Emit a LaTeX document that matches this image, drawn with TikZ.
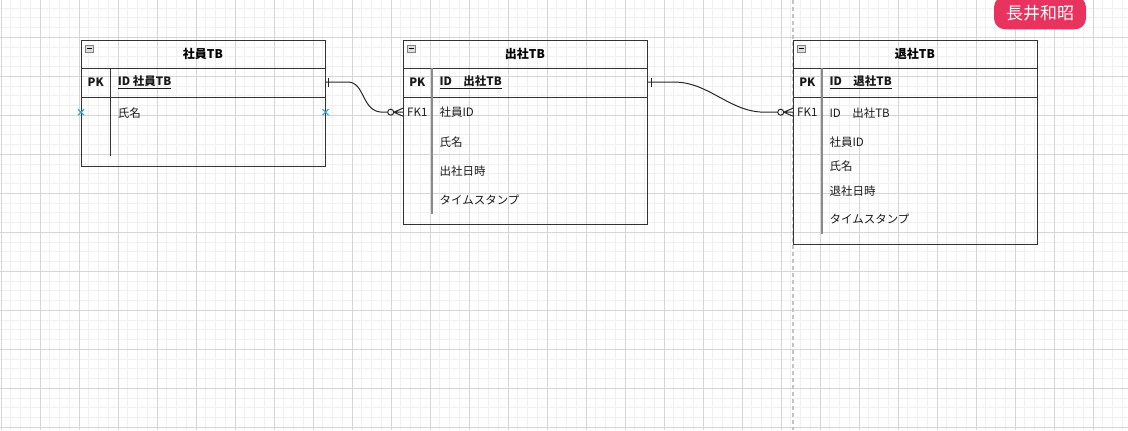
\documentclass[tikz,border=0pt]{standalone}
\usepackage{fontspec}
\setmainfont{Noto Sans CJK JP}
\usetikzlibrary{calc}
\definecolor{gminorc}{HTML}{F0F0F0}
\definecolor{gmajorc}{HTML}{D6D6D6}
\definecolor{edgec}{HTML}{333333}
\definecolor{divc}{HTML}{8A8A8A}
\definecolor{badgec}{HTML}{E8335E}
\definecolor{xmarkc}{HTML}{2EA8E6}
\definecolor{dashc}{HTML}{C4C4C4}
\tikzset{
  gminor/.style={draw=gminorc, line width=1bp},
  gmajor/.style={draw=gmajorc, line width=1bp},
  tbl/.style={draw=edgec, line width=1.1bp, rectangle, inner sep=0, anchor=north west},
  hsep/.style={draw=edgec, line width=1.1bp},
  divthin/.style={draw=edgec, line width=1bp},
  divthick/.style={draw=divc, line width=2bp},
  ttl/.style={font=\bfseries\fontsize{12bp}{14bp}\selectfont, inner sep=0, text=black},
  keytxt/.style={font=\bfseries\fontsize{11.5bp}{14bp}\selectfont, inner sep=0, text=black!90},
  fld/.style={font=\fontsize{11.5bp}{14bp}\selectfont, anchor=west, inner sep=0, text=black!90},
  minusbox/.style={draw=gray, fill=gray!25, minimum width=8bp, minimum height=7bp, inner sep=0, anchor=north west, line width=0.6bp},
  conn/.style={draw=black!85, line width=1bp},
  xm/.style={draw=xmarkc, line width=1.2bp},
  badge/.style={fill=badgec, rounded corners=11bp, minimum width=92bp, minimum height=33bp, inner sep=0, text=white, font=\fontsize{17bp}{20bp}\selectfont}
}
\begin{document}
\begin{tikzpicture}[x=1bp,y=-1bp]
\useasboundingbox (0,0) rectangle (1128,430);
% grid
\foreach \i in {0,...,116} {\draw[gminor] ({1+9.75*\i},0) -- ({1+9.75*\i},430);}
\foreach \j in {0,...,44} {\draw[gminor] (0,{-1.7+9.75*\j}) -- (1128,{-1.7+9.75*\j});}
\foreach \i in {0,...,28} {\draw[gmajor] ({1+39*\i},0) -- ({1+39*\i},430);}
\foreach \j in {0,...,11} {\draw[gmajor] (0,{-1.7+39*\j}) -- (1128,{-1.7+39*\j});}
% page break dashed line
\draw[draw=dashc, line width=1.2bp, dash pattern=on 4bp off 3bp] (793,0) -- (793,430);

% ---------- table 1 ----------
\node[tbl, minimum width=243.5bp, minimum height=126.2bp] (t1) at (81,39.5) {};
\draw[hsep] ($(t1.north west)+(0,28.8)$) -- ($(t1.north east)+(0,28.8)$);
\draw[hsep] ($(t1.north west)+(0,58.2)$) -- ($(t1.north east)+(0,58.2)$);
\draw[divthin] ($(t1.north west)+(29.3,28.8)$) -- ($(t1.north west)+(29.3,116.5)$);
\node[minusbox] (t1m) at ($(t1.north west)+(4,5.5)$) {};
\draw[line width=0.8bp] ([xshift=1.8bp]t1m.west) -- ([xshift=-1.8bp]t1m.east);
\node[ttl] (t1t) at (203,54) {社員TB};
\node[keytxt] (t1k) at (95.7,82) {PK};
\node[fld, font=\bfseries\fontsize{11.5bp}{14bp}\selectfont] (t1p) at (117.7,82) {\underline{ID 社員TB}};
\node[fld] (t1f1) at (117.7,112.7) {氏名};
\path ($(t1.north west)+(0,72.7)$) coordinate (x1) ($(t1.north east)+(0,72.7)$) coordinate (x2);
\draw[xm] ($(x1)+(-3,-3)$) -- ($(x1)+(3,3)$) ($(x1)+(-3,3)$) -- ($(x1)+(3,-3)$);
\draw[xm] ($(x2)+(-3,-3)$) -- ($(x2)+(3,3)$) ($(x2)+(-3,3)$) -- ($(x2)+(3,-3)$);

% ---------- table 2 ----------
\node[tbl, minimum width=243.5bp, minimum height=184.5bp] (t2) at (403,39.5) {};
\draw[hsep] ($(t2.north west)+(0,28.8)$) -- ($(t2.north east)+(0,28.8)$);
\draw[hsep] ($(t2.north west)+(0,58.2)$) -- ($(t2.north east)+(0,58.2)$);
\draw[divthick] ($(t2.north west)+(28.7,28.8)$) -- ($(t2.north west)+(28.7,174.8)$);
\node[minusbox] (t2m) at ($(t2.north west)+(4,5.5)$) {};
\draw[line width=0.8bp] ([xshift=1.8bp]t2m.west) -- ([xshift=-1.8bp]t2m.east);
\node[ttl] (t2t) at (525,54) {出社TB};
\node[keytxt] (t2k) at (417.3,82) {PK};
\node[fld, font=\bfseries\fontsize{11.5bp}{14bp}\selectfont] (t2p) at (439.3,82) {\underline{ID　出社TB}};
\node[fld, font=\fontsize{11.5bp}{14bp}\selectfont, anchor=center] (t2fk) at (417.3,112.3) {FK1};
\node[fld] (t2f1) at (439.3,112.3) {社員ID};
\node[fld] (t2f2) at (439.3,142.3) {氏名};
\node[fld] (t2f3) at (439.3,170.7) {出社日時};
\node[fld] (t2f4) at (439.3,200) {タイムスタンプ};

% ---------- table 3 ----------
\node[tbl, minimum width=243.5bp, minimum height=204.2bp] (t3) at (793,39.5) {};
\draw[hsep] ($(t3.north west)+(0,28.8)$) -- ($(t3.north east)+(0,28.8)$);
\draw[hsep] ($(t3.north west)+(0,58.2)$) -- ($(t3.north east)+(0,58.2)$);
\draw[divthick] ($(t3.north west)+(28.7,28.8)$) -- ($(t3.north west)+(28.7,194.8)$);
\node[minusbox] (t3m) at ($(t3.north west)+(4,5.5)$) {};
\draw[line width=0.8bp] ([xshift=1.8bp]t3m.west) -- ([xshift=-1.8bp]t3m.east);
\node[ttl] (t3t) at (915,54) {退社TB};
\node[keytxt] (t3k) at (807.3,82) {PK};
\node[fld, font=\bfseries\fontsize{11.5bp}{14bp}\selectfont] (t3p) at (829.3,82) {\underline{ID　退社TB}};
\node[fld, anchor=center] (t3fk) at (807.3,112.7) {FK1};
\node[fld] (t3f1) at (829.3,112.7) {ID　出社TB};
\node[fld] (t3f2) at (829.3,141.7) {社員ID};
\node[fld] (t3f3) at (829.3,165.7) {氏名};
\node[fld] (t3f4) at (829.3,190.7) {退社日時};
\node[fld] (t3f5) at (829.3,219) {タイムスタンプ};

% ---------- connector 1 : t1 -> t2 ----------
\path ($(t1.north east)+(0,42.5)$) coordinate (c1s) ($(t2.north west)+(0,72.7)$) coordinate (c1e);
\draw[conn] (c1s) -- ($(c1s)+(22,0)$) .. controls ($(c1s)+(40,0)$) and ($(c1e)+(-42,0)$) .. ($(c1e)+(-20,0)$) -- ($(c1e)+(-15.3,0)$);
\draw[conn] ($(c1s)+(3,-4.5)$) -- ($(c1s)+(3,4.5)$);
\draw[conn] ($(c1e)+(-12.3,0)$) circle[radius=3bp];
\draw[conn] ($(c1e)+(-9.3,0)$) -- ($(c1e)+(0,-4)$) ($(c1e)+(-9.3,0)$) -- ($(c1e)+(0,4)$) ($(c1e)+(-9.3,0)$) -- (c1e);

% ---------- connector 2 : t2 -> t3 ----------
\path ($(t2.north east)+(0,42.5)$) coordinate (c2s) ($(t3.north west)+(0,72.7)$) coordinate (c2e);
\draw[conn] (c2s) -- ($(c2s)+(26,0)$) .. controls ($(c2s)+(62,0)$) and ($(c2e)+(-64,0)$) .. ($(c2e)+(-28,0)$) -- ($(c2e)+(-15.3,0)$);
\draw[conn] ($(c2s)+(4,-4.5)$) -- ($(c2s)+(4,4.5)$);
\draw[conn] ($(c2e)+(-12.3,0)$) circle[radius=3bp];
\draw[conn] ($(c2e)+(-9.3,0)$) -- ($(c2e)+(0,-4)$) ($(c2e)+(-9.3,0)$) -- ($(c2e)+(0,4)$) ($(c2e)+(-9.3,0)$) -- (c2e);

% ---------- badge ----------
\node[badge] (bdg) at (1040,12.8) {長井和昭};
\end{tikzpicture}
\end{document}
